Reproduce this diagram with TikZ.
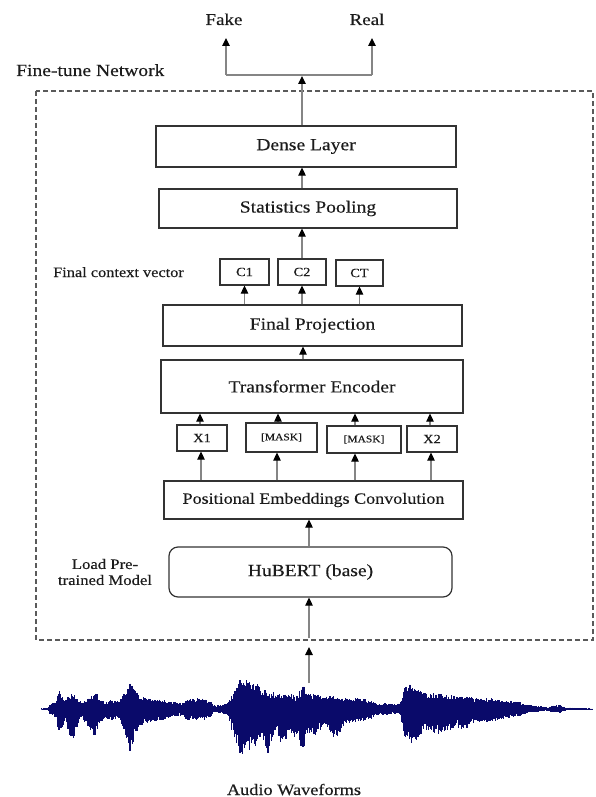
\documentclass[tikz,border=0pt]{standalone}
\usepackage{fontspec}
\setmainfont[FakeStretch=1.15,FakeBold=0.35]{Liberation Serif}
\usetikzlibrary{arrows.meta}
\definecolor{txt}{HTML}{1C1C1C}
\definecolor{boxc}{HTML}{333333}
\definecolor{arrc}{HTML}{858585}
\definecolor{dashc}{HTML}{5A5A5A}
\definecolor{wavec}{HTML}{0A0A6A}
\definecolor{wavel}{HTML}{5050B0}
\begin{document}
\begin{tikzpicture}[x=1pt,y=-1pt,
  txtbase/.style={text=txt,inner sep=0pt},
  blk/.style={draw=boxc,line width=1.2pt,inner sep=0pt,text=txt,font=\fontsize{17}{20}\selectfont},
  tok/.style={draw=boxc,line width=1.2pt,inner sep=0pt,text=txt,font=\fontsize{12.5}{14}\selectfont},
  arr/.style={draw=arrc,line width=1.1pt,-{Triangle[length=8pt,width=7.5pt,color=black]}},
  plain/.style={draw=arrc,line width=1.1pt},
  wave/.style={draw=wavec,line width=1.1pt}]
\useasboundingbox (0,0) rectangle (595,797);

% dashed frame
\draw[draw=dashc,line width=1.2pt,dash pattern=on 5pt off 3pt] (36,91) rectangle (593,640);

% outputs
\node[txtbase,font=\fontsize{16.5}{20}\selectfont,anchor=base] (fake) at (224,25) {Fake};
\node[txtbase,font=\fontsize{16.5}{20}\selectfont,anchor=base] (real) at (367,25) {Real};
\node[txtbase,font=\fontsize{17}{20}\selectfont,anchor=base west] (ftn) at (16,76) {Fine-tune Network};

% blocks
\node[blk,minimum width=300pt,minimum height=41pt] (dense) at (306,146.5) {Dense Layer};
\node[blk,minimum width=298pt,minimum height=39pt] (stats) at (308,208.5) {Statistics Pooling};
\node[tok,minimum width=49pt,minimum height=26pt] (c1) at (244.5,272) {C1};
\node[tok,minimum width=48pt,minimum height=26pt] (c2) at (302,272) {C2};
\node[tok,minimum width=47pt,minimum height=26pt] (ct) at (359.5,273) {CT};
\node[txtbase,font=\fontsize{14.2}{17}\selectfont,anchor=base west] (fcv) at (53,277) {Final context vector};
\node[blk,minimum width=299pt,minimum height=41pt] (fp) at (312.5,325.5) {Final Projection};
\node[blk,minimum width=302pt,minimum height=53pt] (te) at (312,386.5) {Transformer Encoder};
\node[tok,minimum width=50pt,minimum height=26pt] (x1) at (202,438) {X1};
\node[tok,minimum width=71pt,minimum height=29pt,font=\fontsize{10}{12}\selectfont] (m1) at (281.5,437.5) {[MASK]};
\node[tok,minimum width=74pt,minimum height=27pt,font=\fontsize{10}{12}\selectfont] (m2) at (364,439.5) {[MASK]};
\node[tok,minimum width=50pt,minimum height=26pt] (x2) at (432,439) {X2};
\node[blk,minimum width=299pt,minimum height=38pt,font=\fontsize{15.7}{19}\selectfont] (pe) at (313.5,500) {Positional Embeddings Convolution};
\node[blk,rounded corners=9pt,minimum width=283pt,minimum height=50pt] (hub) at (310.5,572) {HuBERT (base)};
\node[txtbase,font=\fontsize{14.5}{16}\selectfont,align=center] (lpm) at (105,572) {Load Pre-\\[0pt]trained Model};
\node[txtbase,font=\fontsize{15.9}{19}\selectfont,anchor=base] (aw) at (294,795) {Audio Waveforms};

% split to outputs
\coordinate (sl) at (226,75);
\coordinate (sr) at (372,75);
\coordinate (fakeTip) at (226,38);
\coordinate (realTip) at (372,38);
\coordinate (splitTip) at (302,76);
\draw[plain] (sl) -- (sr);
\draw[arr] (sl) -- (fakeTip);
\draw[arr] (sr) -- (realTip);
\draw[arr] (dense.north -| splitTip) -- (splitTip);

% vertical flow
\draw[arr] (stats.north -| 302,0) -- (dense.south -| 302,0);
\draw[arr] (c2.north -| 302,0) -- (stats.south -| 302,0);
\draw[arr] (fp.north -| c1) -- (c1.south);
\draw[arr] (fp.north -| c2) -- (c2.south);
\draw[arr] (fp.north -| ct) -- (ct.south);
\draw[arr] (te.north -| 303,0) -- (fp.south -| 303,0);
\foreach \t/\xx in {x1/200,m1/278,m2/355,x2/430}{
  \draw[arr] (\t.north -| \xx,0) -- (te.south -| \xx,0);
}
\foreach \t/\xx in {x1/201,m1/277,m2/355,x2/431}{
  \draw[arr] (pe.north -| \xx,0) -- (\t.south -| \xx,0);
}
\draw[arr] (hub.north -| 309,0) -- (pe.south -| 309,0);
\coordinate (frameIn) at (309,638);
\draw[arr] (frameIn) -- (hub.south -| frameIn);
\coordinate (wtop) at (309,683);
\coordinate (wtip) at (309,647);
\draw[arr] (wtop) -- (wtip);

% waveform
\pgfmathsetseed{7}
\draw[draw=wavel,line width=1pt] (41,709) -- (592,709);
\gdef\px{41}\gdef\pu{0.5}\gdef\pd{0.5}
\foreach \x/\u/\d in {48/1/1,50/5/5,56/7/9,59/20/24,62/13/19,66/9/11,70/16/30,74/17/31,78/11/16,82/7/9,86/9/16,90/13/22,95/19/29,99/11/16,105/7/9,112/9/11,118/8/9,124/15/22,130/27/45,134/21/32,140/13/17,150/11/13,165/9/11,175/8/9,182/5/6,186/10/11,200/11/12,210/9/10,214/4/4,222/4/4,228/6/7,235/22/32,240/31/46,248/29/42,256/26/37,262/21/27,268/19/44,275/16/22,282/15/38,290/16/24,298/13/32,303/27/42,308/17/24,315/15/27,325/13/17,335/13/32,345/11/15,360/11/13,370/9/11,378/5/6,385/6/6,395/5/5,400/6/6,405/22/30,410/26/36,418/21/32,425/16/20,435/16/24,445/15/27,455/13/17,465/13/22,475/11/13,490/11/13,505/9/10,520/7/7,530/4/4,540/3/3,548/1.5/1.5,553/4/4,560/4/4,566/1.5/1.5,592/0.5/0.5}{
  \pgfmathtruncatemacro\n{max(1,(\x-\px)/0.6)}
  \foreach \i in {1,...,\n}{
    \pgfmathsetmacro\f{\i/\n}
    \pgfmathsetmacro\xx{\px+(\x-\px)*\f}
    \pgfmathsetmacro\uu{(\pu+(\u-\pu)*\f)*(0.6+0.4*rnd)}
    \pgfmathsetmacro\dd{(\pd+(\d-\pd)*\f)*(0.6+0.4*rnd)}
    \draw[wave] (\xx,709-\uu) -- (\xx,709+\dd);
  }
  \xdef\px{\x}\xdef\pu{\u}\xdef\pd{\d}
}
\end{tikzpicture}
\end{document}
